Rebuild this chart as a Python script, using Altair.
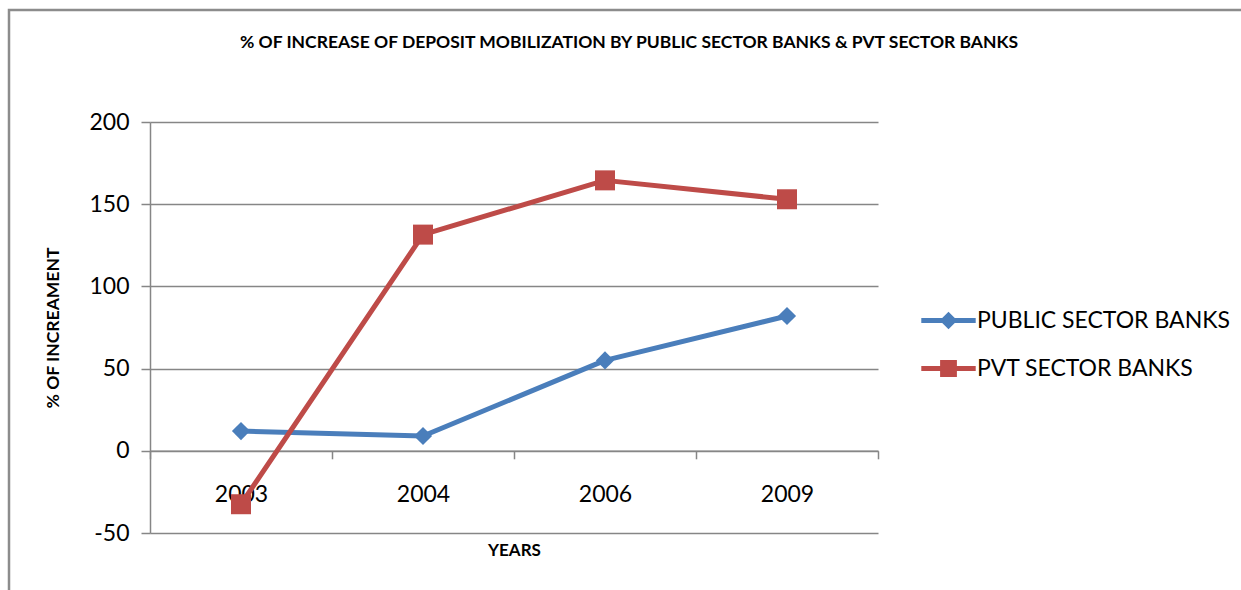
import altair as alt
import pandas as pd

# ---- data ----
years = ["2003", "2004", "2006", "2009"]
public_sector = [12, 9, 55, 82]
pvt_sector = [-32.5, 131.5, 164.5, 153]
series_names = ["PUBLIC SECTOR BANKS", "PVT SECTOR BANKS"]
series_colors = ["#4A7EBB", "#BE4B48"]
y_ticks = [-50, 0, 50, 100, 150, 200]

rows = []
for name, vals in zip(series_names, [public_sector, pvt_sector]):
    for yr, v in zip(years, vals):
        rows.append({"year": yr, "value": v, "series": name})
df = pd.DataFrame(rows)

W, H = 728, 411
FONT = "Lato"
AX = "#868686"
zero_offset = -H * 50 / 250  # category axis crosses at 0

# legend symbols: thin bar (line) + marker, all filled
leg_diamond = "M-3.4,-0.3L3.4,-0.3L3.4,0.3L-3.4,0.3ZM-1.1,0L0,-1.1L1.1,0L0,1.1Z"
leg_square = "M-3.4,-0.3L3.4,-0.3L3.4,0.3L-3.4,0.3ZM-1.05,-1.05L1.05,-1.05L1.05,1.05L-1.05,1.05Z"

x_enc = alt.X(
    "year:N",
    sort=years,
    scale=alt.Scale(type="band", paddingInner=0, paddingOuter=0),
    bandPosition=0.5,
    axis=alt.Axis(
        title="YEARS",
        titleFont=FONT, titleFontSize=17, titleFontWeight="bold", titleColor="#000000",
        titlePadding=36,
        labelFont=FONT, labelFontSize=23, labelColor="#000000", labelPadding=25,
        labelAngle=0,
        tickBand="extent", tickSize=8, tickColor=AX, tickWidth=1.5,
        domainColor=AX, domainWidth=1.5,
        grid=False, offset=zero_offset,
    ),
)
y_enc = alt.Y(
    "value:Q",
    scale=alt.Scale(domain=[-50, 200], nice=False, zero=False),
    axis=alt.Axis(
        values=y_ticks,
        labelExpr="datum.value < 0 ? '-' + abs(datum.value) : '' + datum.value",
        title="% OF INCREAMENT",
        titleFont=FONT, titleFontSize=17.5, titleFontWeight="bold", titleColor="#000000",
        titleX=-88, titleY=H / 2, titleAngle=270,
        labelFont=FONT, labelFontSize=23, labelColor="#000000", labelPadding=12,
        tickSize=9, tickColor=AX, tickWidth=1.5,
        domainColor=AX, domainWidth=1.5,
        grid=True, gridColor=AX, gridWidth=1.5,
    ),
)
legend_color_scale = alt.Scale(domain=series_names, range=series_colors)
mark_color_scale = alt.Scale(range=series_colors)  # data-driven domain, same order

legend = alt.Legend(
    title=None,
    orient="none", legendX=768, legendY=187,
    labelFont=FONT, labelFontSize=23, labelColor="#000000", labelLimit=400,
    symbolSize=256, symbolStrokeWidth=0, symbolOffset=19, labelOffset=17,
    rowPadding=24, symbolOpacity=1,
)

frame = alt.Chart(pd.DataFrame({"f": [0]})).mark_rect(
    fill="transparent", stroke="#8c8c8c", strokeWidth=2.5
).encode(
    x=alt.value(9 - 150), x2=alt.value(1400), y=alt.value(10 - 122), y2=alt.value(700)
)

lines = alt.Chart(df).mark_line(strokeWidth=5, strokeJoin="round", strokeCap="round").encode(
    x=x_enc,
    y=y_enc,
    stroke=alt.Stroke("series:N", sort=series_names, scale=mark_color_scale, legend=None),
    detail="series:N",
)

pts_public = alt.Chart(df).transform_filter(
    alt.datum.series == series_names[0]
).mark_point(filled=True, shape="diamond", size=330, opacity=1, strokeWidth=0).encode(
    x=x_enc, y=y_enc,
    fill=alt.Fill("series:N", sort=series_names, scale=mark_color_scale, legend=None),
)
pts_pvt = alt.Chart(df).transform_filter(
    alt.datum.series == series_names[1]
).mark_point(filled=True, shape="square", size=400, opacity=1, strokeWidth=0).encode(
    x=x_enc, y=y_enc,
    fill=alt.Fill("series:N", sort=series_names, scale=mark_color_scale, legend=None),
)

# legend-only layer (no rows drawn; entries come from the explicit scale domains)
legend_layer = alt.Chart(df).transform_filter("false").mark_point(
    filled=True, size=256, opacity=1, strokeWidth=0
).encode(
    x=x_enc, y=y_enc,
    color=alt.Color("series:N", scale=legend_color_scale, legend=legend),
    shape=alt.Shape(
        "series:N",
        scale=alt.Scale(domain=series_names, range=[leg_diamond, leg_square]),
        legend=legend,
    ),
)

chart = alt.layer(frame, lines, pts_public, pts_pvt, legend_layer).properties(
    width=W,
    height=H,
    title=alt.TitleParams(
        "% OF INCREASE OF DEPOSIT MOBILIZATION BY PUBLIC SECTOR BANKS & PVT SECTOR BANKS",
        font=FONT, fontSize=17.5, fontWeight="bold", color="#000000",
        anchor="middle", frame="group", dx=115, offset=-43,
    ),
    autosize=alt.AutoSizeParams(type="none"),
    padding={"left": 150, "top": 122, "right": 363, "bottom": 57},
    background="#ffffff",
).configure_view(stroke=None)

chart.save("out.html", embed_options={"renderer": "svg", "actions": False})
